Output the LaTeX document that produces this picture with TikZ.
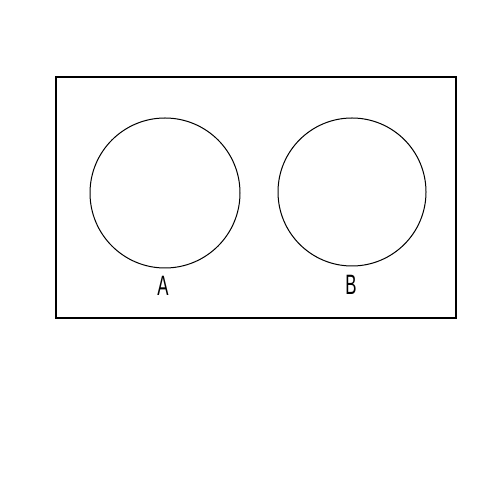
\documentclass[tikz,border=0pt]{standalone}
\usepackage{fontspec}
\setmainfont{Liberation Sans}
\begin{document}
\begin{tikzpicture}[x=1pt,y=1pt,
  circ/.style={draw,line width=1pt},
  lab/.style={font=\fontsize{28}{28}\selectfont, xscale=0.6, inner sep=0pt}]
\useasboundingbox (0,0) rectangle (500,500);
\draw[line width=2pt] (56,423) rectangle (456,182);
\node[circ,circle,minimum size=150pt,inner sep=0pt] (a) at (165,307) {};
\node[circ,circle,minimum size=148pt,inner sep=0pt] (b) at (352,308) {};
\node[lab] (la) at (163,214.5) {A};
\node[lab] (lb) at (351,215.5) {B};
\end{tikzpicture}
\end{document}
